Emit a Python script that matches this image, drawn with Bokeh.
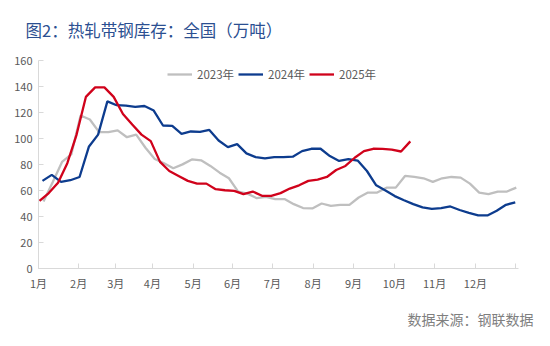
from bokeh.plotting import figure
from bokeh.models import Range1d, FixedTicker, Legend, LegendItem, Title
from bokeh.embed import file_html
from bokeh.resources import INLINE

# ---- data ----
months = ["1月", "2月", "3月", "4月", "5月", "6月", "7月", "8月", "9月", "10月", "11月", "12月", ""]
month_pos = [-0.43, 3.9, 7.9, 11.85, 16.25, 20.5, 24.8, 29.2, 33.55, 37.97, 42.3, 46.7, 51.0]

start_2023 = 0.11
start_2024 = 0.0
start_2025 = -0.32

v2023 = [51.5, 66.6, 82.0, 87.8, 117.7, 114.6, 104.9, 104.9, 106.2, 101.0, 103.0, 92.9, 84.2,
         81.0, 77.1, 80.1, 83.9, 83.2, 78.9, 73.7, 69.4, 59.2, 57.6, 54.1, 55.1, 53.4,
         53.4, 49.5, 46.5, 46.2, 50.0, 48.2, 49.0, 49.0, 54.6, 58.4, 58.4, 62.2, 62.2,
         71.2, 70.4, 69.4, 66.6, 69.4, 70.4, 69.9, 65.3, 58.4, 57.2, 59.2, 59.2, 62.2]
v2024 = [67.4, 72.0, 66.6, 67.9, 70.4, 93.6, 103.0, 128.6, 125.6, 125.3, 124.3, 125.0, 121.5,
         110.0, 109.7, 103.6, 105.4, 105.1, 106.6, 98.5, 93.4, 95.7, 88.6, 85.7, 84.7, 85.7,
         85.7, 86.0, 90.3, 92.1, 92.1, 86.5, 82.7, 84.2, 83.0, 75.0, 64.0, 60.0, 55.7,
         52.5, 49.5, 47.0, 45.8, 46.5, 47.7, 45.0, 42.8, 40.8, 40.8, 44.4, 49.0, 50.8]
v2025 = [52.0, 58.0, 66.0, 81.0, 103.0, 132.0, 139.3, 139.3, 132.0, 118.9, 110.8, 103.0, 98.0,
         82.0, 75.0, 71.2, 67.4, 65.3, 65.3, 61.0, 60.2, 59.7, 57.2, 59.2, 55.9, 55.9,
         58.0, 61.5, 64.0, 67.4, 68.4, 70.4, 75.8, 78.9, 85.2, 90.3, 92.1, 92.0, 91.4,
         90.0, 97.8]

names = ["2023年", "2024年", "2025年"]
colors = ["#BFBFBF", "#0D3C8E", "#D0021B"]
title_text = "图2：热轧带钢库存：全国（万吨）"
source_text = "数据来源：钢联数据"

FONT = "Noto Sans CJK SC"

p = figure(width=550, height=346, output_backend="svg", toolbar_location=None,
           x_range=Range1d(-0.43, 51.35), y_range=Range1d(0, 160),
           min_border_left=38, min_border_right=32, min_border_top=59, min_border_bottom=78)
p.outline_line_color = None
p.xgrid.grid_line_color = None
p.ygrid.grid_line_color = None
p.background_fill_color = "white"
p.border_fill_color = "white"

series = [(start_2023, v2023), (start_2024, v2024), (start_2025, v2025)]
renderers = []
for (s, vals), c in zip(series, colors):
    xs = [s + i for i in range(len(vals))]
    r = p.line(xs, vals, line_color=c, line_width=2.3)
    renderers.append(r)

# axes
p.xaxis.ticker = FixedTicker(ticks=month_pos)
p.xaxis.major_label_overrides = {t: m for t, m in zip(month_pos, months)}
p.yaxis.ticker = FixedTicker(ticks=[0, 20, 40, 60, 80, 100, 120, 140, 160])
for ax in (p.xaxis[0], p.yaxis[0]):
    ax.axis_line_color = "#D9D9D9"
    ax.axis_line_width = 1
    ax.major_tick_line_color = "#D9D9D9"
    ax.major_tick_in = 5
    ax.major_tick_out = 0
    ax.minor_tick_line_color = None
    ax.major_label_text_font = FONT
    ax.major_label_text_font_size = "11px"
    ax.major_label_text_color = "#595959"
p.xaxis.major_label_standoff = 6
p.yaxis.major_label_standoff = 6

legend = Legend(items=[LegendItem(label=n, renderers=[r]) for n, r in zip(names, renderers)],
                orientation="horizontal", location=(129, 186),
                padding=0, margin=0, spacing=4, label_standoff=5,
                glyph_width=25, glyph_height=16, label_height=16,
                border_line_color=None, background_fill_alpha=0,
                label_text_font=FONT, label_text_font_size="11.5px",
                label_text_color="#595959")
p.add_layout(legend, "center")

p.title = Title(text=title_text, align="left", offset=-13, standoff=34,
                vertical_align="top",
                text_font=FONT, text_font_size="16.5px", text_font_style="normal",
                text_color="#2B4F91")

src = Title(text=source_text, align="right", offset=-15, standoff=27,
            text_font=FONT, text_font_size="14px", text_font_style="normal",
            text_color="#7F7F7F")
p.add_layout(src, "below")

open("out.html", "w").write(file_html(p, INLINE))
